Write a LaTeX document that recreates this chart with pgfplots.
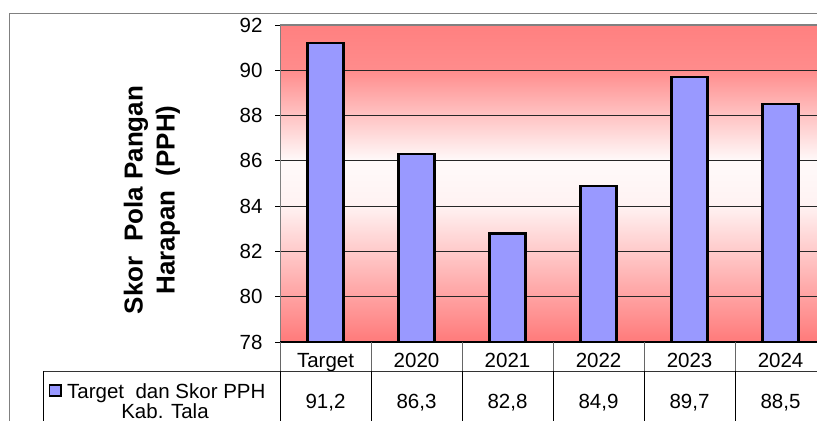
\documentclass[border=0pt]{standalone}
\usepackage{fontspec}
\setmainfont{Liberation Sans}
\usepackage{pgfplots}
\pgfplotsset{compat=1.18}
\definecolor{bgred}{HTML}{FF8080}
\definecolor{bgredA}{HTML}{FF7A7A}
\definecolor{bgpale}{HTML}{FFF2F2}
\definecolor{bgwhite}{HTML}{FFFAFA}
\definecolor{bgredB}{HTML}{FF8C8C}
\definecolor{barblue}{HTML}{9999FF}
\definecolor{frame}{HTML}{808080}
\begin{document}
\begin{tikzpicture}[x=1pt,y=1pt]
\path[use as bounding box] (0,0) rectangle (817,421);
% outer chart frame
\draw[frame, line width=1pt] (9,407) -- (817,407);
\draw[frame, line width=1pt] (9,407) -- (9,0);
% plot-area background gradient (behind the axis)
\shade[bottom color=bgredA, top color=bgpale] (280,79) rectangle (817,215.2);
\shade[bottom color=bgpale, top color=bgwhite] (280,214.86) rectangle (817,260.5);
\shade[bottom color=bgwhite, top color=bgredB] (280,260.14) rectangle (817,351);
\shade[bottom color=bgredB, top color=bgred] (280,350.71) rectangle (817,396);
\begin{axis}[
  at={(280pt,79pt)}, anchor=south west,
  scale only axis, width=537pt, height=317pt,
  xmin=-0.5, xmax=5.4, ymin=78, ymax=92,
  ytick={78,80,...,92},
  xtick={0,1,2,3,4,5},
  xticklabels={Target,2020,2021,2022,2023,2024},
  axis line style={draw=none},
  ymajorgrids, grid style={black!85, line width=0.9pt},
  tick align=outside, major tick length=5pt,
  ytick pos=left,
  ytick style={black, line width=0.9pt},
  xtick style={draw=none},
  ticklabel style={font=\fontsize{20.5}{24}\selectfont},
  /pgf/number format/assume math mode=true,
  yticklabel style={xshift=-9pt},
  xticklabel style={anchor=base, yshift=-20pt},
  clip=true,
]
\addplot[ybar, bar width=36pt, bar shift=0pt, fill=barblue, draw=black, line width=2.5pt]
  coordinates {(0,91.2) (1,86.3) (2,82.8) (3,84.9) (4,89.7) (5,88.5)};
\draw[frame, line width=2pt] (rel axis cs:0,1) -- (rel axis cs:1,1);
\draw[frame, line width=1.5pt] (rel axis cs:0,0) -- (rel axis cs:0,1);
\draw[black, line width=1.5pt] (rel axis cs:0,0) -- (rel axis cs:1,0);
\end{axis}
% data table
\draw[black!80, line width=1pt] (43,50) -- (817,50);
\draw[black, line width=1pt] (43,50) -- (43,0);
\draw[black!60, line width=0.8pt] (280,79) -- (280,50);
\draw[black, line width=1pt] (280,50) -- (280,0);
\foreach \xx in {371,462,553,644,735} {
  \draw[black!60, line width=0.8pt] (\xx,79) -- (\xx,50);
  \draw[black, line width=1pt] (\xx,50) -- (\xx,0);
}
\draw[fill=barblue, draw=black, line width=1.5pt] (49.5,25) rectangle (61,36);
\node[anchor=base west, inner sep=0pt, font=\fontsize{20.5}{24}\selectfont] at (67,23) {Target\ \ dan Skor PPH};
\node[anchor=base, inner sep=0pt, font=\fontsize{20.5}{24}\selectfont] at (165,3) {Kab. Tala};
\foreach \xx/\v in {325.5/{91,2},416.5/{86,3},507.5/{82,8},598.5/{84,9},689.5/{89,7},780.5/{88,5}} {
  \node[anchor=base, inner sep=0pt, font=\fontsize{20.5}{24}\selectfont] at (\xx,13) {\v};
}
% y label
\node[rotate=90, align=center, font=\bfseries\fontsize{26}{32}\selectfont] at (152,221) {Skor\ \ Pola Pangan\\Harapan\ \ (PPH)};
\end{tikzpicture}
\end{document}
